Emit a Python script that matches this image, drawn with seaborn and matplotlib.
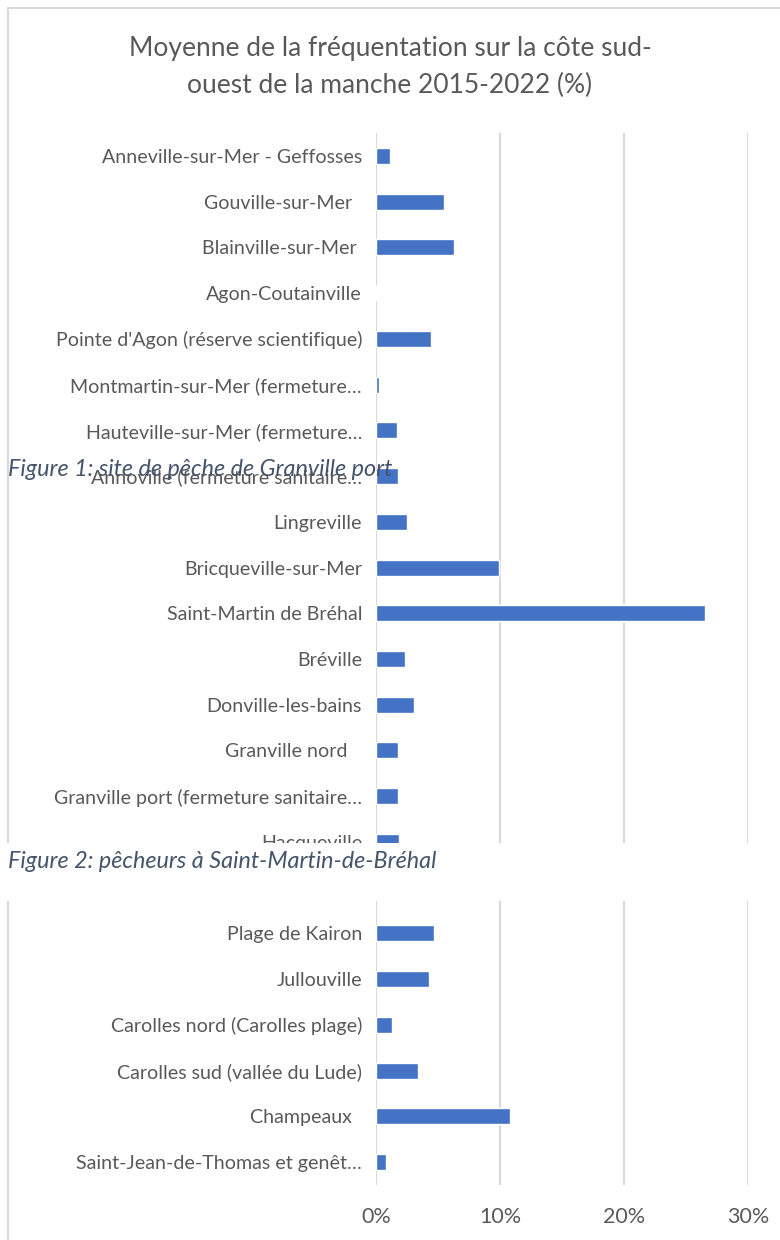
import matplotlib
matplotlib.use("Agg")
import matplotlib.pyplot as plt
from matplotlib.patches import Rectangle
from matplotlib.ticker import PercentFormatter, FixedLocator
import seaborn as sns
import pandas as pd

sites = [
    "Anneville-sur-Mer - Geffosses",
    "Gouville-sur-Mer  ",
    "Blainville-sur-Mer ",
    "Agon-Coutainville",
    "Pointe d'Agon (réserve scientifique)",
    "Montmartin-sur-Mer (fermeture…",
    "Hauteville-sur-Mer (fermeture…",
    "Annoville (fermeture sanitaire…",
    "Lingreville",
    "Bricqueville-sur-Mer",
    "Saint-Martin de Bréhal",
    "Bréville",
    "Donville-les-bains",
    "Granville nord   ",
    "Granville port (fermeture sanitaire…",
    "Hacqueville",
    "Saint-Pair-sur-Mer",
    "Plage de Kairon",
    "Jullouville",
    "Carolles nord (Carolles plage)",
    "Carolles sud (vallée du Lude)",
    "Champeaux  ",
    "Saint-Jean-de-Thomas et genêt…",
]
frequentation = [
    0.0115, 0.0545, 0.063, 0.0, 0.044, 0.0025, 0.017, 0.0175,
    0.025, 0.099, 0.265, 0.0235, 0.0305, 0.0175, 0.018, 0.0185,
    0.03, 0.047, 0.043, 0.013, 0.0335, 0.108, 0.008,
]
x_ticks = [0.0, 0.10, 0.20, 0.30]

title = "Moyenne de la fréquentation sur la côte sud-\nouest de la manche 2015-2022 (%)"
caption1 = "Figure 1: site de pêche de Granville port"
caption2 = "Figure 2: pêcheurs à Saint-Martin-de-Bréhal"

sns.set_theme(style="white")
plt.rcParams["font.family"] = ["Lato", "DejaVu Sans"]

W, H = 780, 1240
fig = plt.figure(figsize=(W / 100, H / 100), dpi=100)
ax = fig.add_axes([376 / W, 1 - 1185 / H, (748 - 376) / W, (1185 - 133) / H])

df = pd.DataFrame({"site": sites, "val": frequentation})
sns.barplot(data=df, x="val", y="site", orient="h", color="#4472C4",
            width=0.35, saturation=1, ax=ax, zorder=3)

ax.set_xlim(0, 0.30)
ax.set_ylim(len(sites) - 0.5, -0.5)
ax.xaxis.set_major_locator(FixedLocator(x_ticks))
ax.xaxis.set_major_formatter(PercentFormatter(1.0, decimals=0))
ax.grid(axis="x", color="#D9D9D9", linewidth=1.5, zorder=0)
ax.set_axisbelow(True)
for s in ax.spines.values():
    s.set_visible(False)
ax.set_xlabel("")
ax.set_ylabel("")
ax.tick_params(axis="y", length=0, pad=10, labelsize=14.1, labelcolor="#595959")
ax.tick_params(axis="x", length=0, pad=16, labelsize=15.5, labelcolor="#595959")

fig.text(0.5, 1 - 67 / H, title, ha="center", va="center", fontsize=19,
         color="#595959", linespacing=1.62)

# chart frame
fig.add_artist(Rectangle((8 / W, -0.1), 1.2, 1 - 8 / H + 0.1, transform=fig.transFigure,
                         fill=False, edgecolor="#D9D9D9", linewidth=1.5))

# caption 1 overlaps chart
fig.text(8 / W, 1 - 470 / H, caption1, ha="left", va="center", fontsize=16.8,
         style="italic", color="#44546A", zorder=10)

# white band with caption 2
fig.add_artist(Rectangle((0, 1 - 901 / H), 1, 58 / H, transform=fig.transFigure,
                         facecolor="white", edgecolor="none", zorder=9))
fig.text(8 / W, 1 - 862 / H, caption2, ha="left", va="center", fontsize=16.8,
         style="italic", color="#44546A", zorder=10)

fig.savefig("out.png", dpi=100)
